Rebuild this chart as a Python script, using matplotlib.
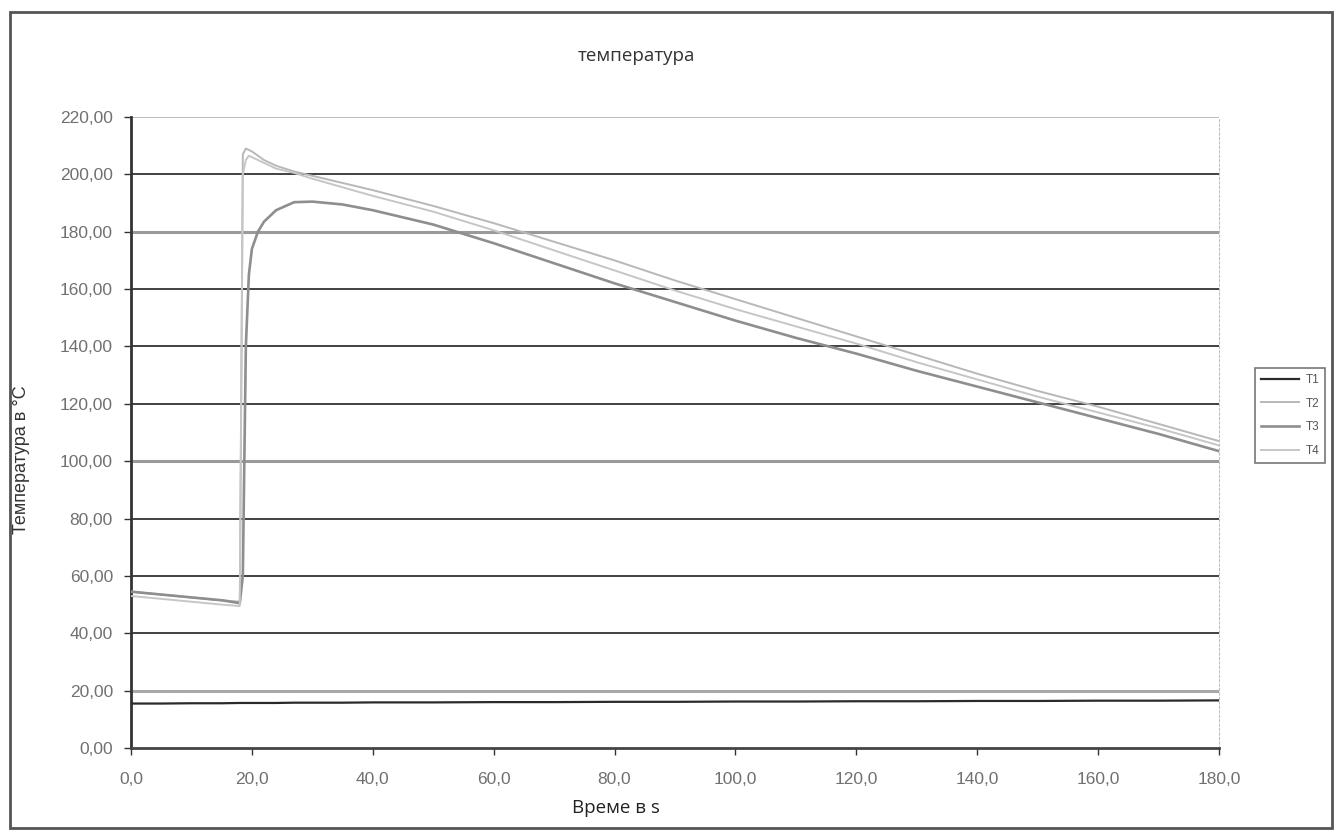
import matplotlib
matplotlib.use("Agg")
import matplotlib.pyplot as plt
from matplotlib.patches import Rectangle
from matplotlib.ticker import FuncFormatter

t = [0, 5, 10, 15, 18, 18.5, 19, 19.5, 20, 21, 22, 24, 27, 30, 35, 40,
     50, 60, 70, 80, 90, 100, 110, 120, 130, 140, 150, 160, 170, 180]

T1 = [15.5, 15.5, 15.6, 15.6, 15.7, 15.7, 15.7, 15.7, 15.7, 15.7, 15.7, 15.7, 15.8, 15.8, 15.8, 15.9,
      15.9, 16.0, 16.0, 16.1, 16.1, 16.2, 16.2, 16.3, 16.3, 16.4, 16.4, 16.5, 16.5, 16.6]
T2 = [54.5, 53.5, 52.5, 51.5, 51.0, 207, 209, 208.5, 208, 206.5, 205, 203, 201, 199.5, 197, 194.5,
      189, 183, 176.5, 170, 163, 156.5, 150, 143.5, 137, 130.5, 124.5, 119, 113, 107]
T3 = [54.5, 53.5, 52.5, 51.5, 50.5, 60, 140, 165, 174, 180, 183.5, 187.5, 190.3, 190.5, 189.5, 187.5,
      182.5, 176, 169, 162, 155.5, 149, 143, 137.5, 131.5, 126, 120.5, 115, 109.5, 103.5]
T4 = [53, 52, 51, 50, 49.5, 200, 205, 206.5, 206, 205, 204, 202, 200.5, 198.5, 195.5, 192.5,
      187, 180.5, 173.5, 166.5, 159.5, 153, 147, 141, 134.5, 128.5, 122.5, 117, 111.5, 105.5]

x_ticks = [0, 20, 40, 60, 80, 100, 120, 140, 160, 180]
y_ticks = [0, 20, 40, 60, 80, 100, 120, 140, 160, 180, 200, 220]
grid_colors = {20: "#a8a8a8", 40: "#333333", 60: "#333333", 80: "#333333", 100: "#9a9a9a",
               120: "#333333", 140: "#333333", 160: "#333333", 180: "#9a9a9a",
               200: "#333333", 220: "#b5b5b5"}

plt.rcParams['font.family'] = ['Liberation Sans', 'DejaVu Sans']

fig = plt.figure(figsize=(13.35, 8.33), dpi=100)
ax = fig.add_axes([131/1335, 1 - 748/833, 1088/1335, 631/833])

# gridlines
for yv in y_ticks[1:]:
    lw = 2.2 if grid_colors[yv] == "#9a9a9a" or yv == 20 else 1.3
    ax.axhline(yv, color=grid_colors[yv], lw=lw, zorder=1)

ax.plot(t, T1, color="#2a2a2a", lw=1.6, label="T1", zorder=3)
ax.plot(t, T2, color="#b8b8b8", lw=1.4, label="T2", zorder=3)
ax.plot(t, T3, color="#8e8e8e", lw=1.9, label="T3", zorder=3)
ax.plot(t, T4, color="#c6c6c6", lw=1.4, label="T4", zorder=3)

ax.set_xlim(0, 180)
ax.set_ylim(0, 220)
ax.set_xticks(x_ticks)
ax.set_yticks(y_ticks)
ax.xaxis.set_major_formatter(FuncFormatter(lambda v, p: f"{v:.1f}".replace(".", ",")))
ax.yaxis.set_major_formatter(FuncFormatter(lambda v, p: f"{v:.2f}".replace(".", ",")))
ax.tick_params(axis="both", direction="out", length=5, width=1, color="#333333",
               labelsize=12.5, labelcolor="#707070")
ax.tick_params(axis="x", pad=12)
ax.tick_params(axis="y", pad=8)

ax.spines["top"].set_visible(False)
ax.spines["right"].set_color("#c0c0c0")
ax.spines["right"].set_linestyle((0, (2, 2)))
ax.spines["left"].set_color("#333333")
ax.spines["left"].set_linewidth(2)
ax.spines["bottom"].set_color("#444444")
ax.spines["bottom"].set_linewidth(2)

fig.text(636/1335, 1 - 56/833, "температура", ha="center", va="center",
         fontsize=13.5, color="#333333", family=["Open Sans", "DejaVu Sans"])
ax.set_xlabel("Време в s", fontsize=13.5, color="#222222", family=["Open Sans", "DejaVu Sans"])
ax.xaxis.set_label_coords((616 - 131) / 1088, (748 - 799) / 631)
ax.set_ylabel("Температура в °C", fontsize=13, color="#333333")
ax.yaxis.set_label_coords((30 - 131) / 1088, (748 - 460) / 631)

leg = fig.legend(loc="upper left", bbox_to_anchor=(1249/1335, 1 - 362/833), fontsize=8.5,
                 frameon=True, fancybox=False, handlelength=3.2, labelspacing=1.0,
                 borderpad=0.5, handletextpad=0.6)
leg.get_frame().set_edgecolor("#555555")
leg.get_frame().set_linewidth(1.2)
for txt in leg.get_texts():
    txt.set_color("#555555")

# outer chart border
fig.add_artist(Rectangle((10/1335, 5/833), 1322/1335, 816/833, transform=fig.transFigure,
                         fill=False, edgecolor="#555555", lw=2.0))

fig.savefig("out.png", dpi=100)
